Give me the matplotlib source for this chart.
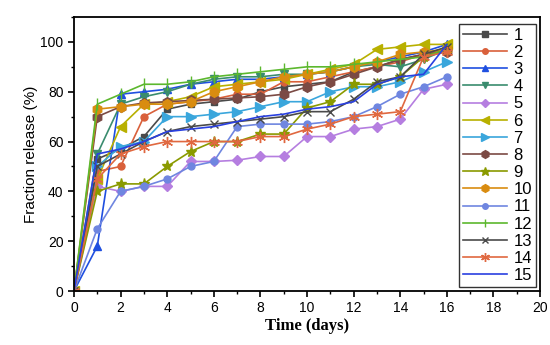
import matplotlib
matplotlib.use("Agg")
import matplotlib.pyplot as plt
from matplotlib.ticker import MultipleLocator

days = list(range(0, 17))

s1 = [0, 53, 57, 62, 73, 75, 76, 77, 80, 82, 83, 84, 88, 90, 93, 95, 97]
s2 = [0, 48, 50, 70, 75, 76, 77, 79, 79, 84, 84, 86, 88, 90, 92, 95, 97]
s3 = [0, 18, 79, 80, 81, 83, 84, 85, 85, 86, 87, 88, 90, 92, 94, 96, 99]
s4 = [0, 55, 75, 78, 80, 83, 85, 86, 86, 87, 87, 88, 90, 91, 90, 93, 97]
s5 = [0, 42, 40, 42, 42, 52, 52, 52.5, 54, 54, 62, 62, 65, 66, 69, 81, 83]
s6 = [0, 45, 66, 75, 76, 78, 82, 83, 84, 85, 87, 89, 91, 97, 98, 99, 99]
s7 = [0, 50, 58, 60, 70, 70, 71, 72, 74, 76, 76, 80, 82, 82, 84, 88, 92]
s8 = [0, 70, 74, 75.5, 76, 76.5, 77, 77.5, 78, 79, 82, 84, 87, 90, 93, 95, 96]
s9 = [0, 40, 43, 43, 50, 56, 60, 60, 63, 63, 73.5, 76, 83, 83, 86, 94, 97]
s10 = [0, 73, 74, 75, 75, 76, 80, 82, 84, 86, 87, 88, 90, 92, 95, 96, 97]
s11 = [0, 25, 40, 42, 45, 50, 52, 66, 67, 67, 67, 68, 70, 74, 79, 82, 86]
s12 = [0, 75, 79, 83, 83, 84, 86, 87, 88, 89, 90, 90, 91, 92, 93, 94, 97]
s13 = [0, 50, 55, 60, 64, 66, 67, 68, 69, 70, 72, 72, 77, 84, 86, 95, 98]
s14 = [0, 45, 55, 58, 60, 60, 60, 60, 62, 62, 65, 67, 70, 71, 72, 94, 96]
s15 = [0, 55, 57, 60, 64, 65, 66, 68, 70, 71, 73, 74, 76, 83, 86, 87, 99]

labels = [str(i) for i in range(1, 16)]
series = [s1, s2, s3, s4, s5, s6, s7, s8, s9, s10, s11, s12, s13, s14, s15]

colors = ["#4a4a4a", "#d9603b", "#1f4fe0", "#3a8c6e", "#b57ee0", "#b8b000",
          "#3aa6dc", "#7b4a44", "#8a9a00", "#d98c10", "#6f86e0", "#5cb82e",
          "#4a4a4a", "#e06840", "#2a40e0"]
markers = ["s", "o", "^", "v", "D", "<", ">", "h", "*", "h", "o", "|", "x",
           (6, 2, 0), None]
sizes = [5, 5, 6, 6, 5, 7, 7, 7, 8, 7, 5, 8, 6, 8, 0]

fig = plt.figure(figsize=(5.5, 3.45), dpi=100)
ax = fig.add_axes([0.1345, 0.1565, 0.8475, 0.7942])

for y, lab, c, m, ms in zip(series, labels, colors, markers, sizes):
    ax.plot(days, y, color=c, marker=m, markersize=ms, linewidth=1.2,
            label=lab, markeredgewidth=1.0)

ax.set_xlim(0, 20)
ax.set_ylim(0, 110)
ax.xaxis.set_major_locator(MultipleLocator(2))
ax.xaxis.set_minor_locator(MultipleLocator(1))
ax.yaxis.set_major_locator(MultipleLocator(20))
ax.yaxis.set_minor_locator(MultipleLocator(10))
ax.set_yticks([0, 20, 40, 60, 80, 100])
ax.tick_params(which="major", direction="out", length=4, width=1.2,
               labelsize=10, labelfontfamily="Liberation Sans")
ax.tick_params(which="minor", direction="out", length=2.5, width=1.0)
for sp in ax.spines.values():
    sp.set_linewidth(1.3)

ax.set_xlabel("Time (days)", fontsize=12, fontweight="bold",
              family="Liberation Serif", labelpad=2)
ax.set_ylabel("Fraction release (%)", fontsize=11, family="Liberation Sans",
              labelpad=2)

leg = ax.legend(loc="upper right", bbox_to_anchor=(0.995, 0.982),
                prop={"family": "Liberation Sans", "size": 12},
                frameon=True, fancybox=False, edgecolor="black",
                handlelength=2.6, labelspacing=0.13, borderpad=0.25,
                handletextpad=0.4, borderaxespad=0.1, markerscale=0.8)
leg.get_frame().set_linewidth(1.0)

fig.savefig("out.png", dpi=100)
